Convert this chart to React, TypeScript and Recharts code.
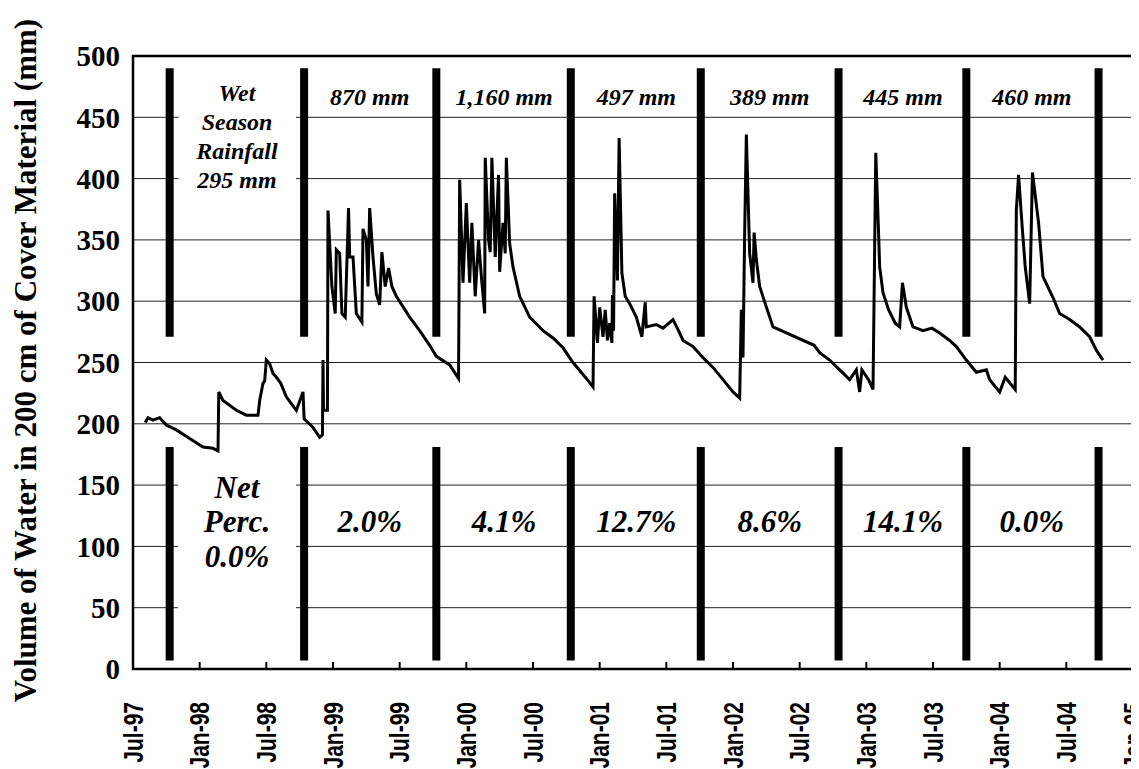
import React from 'react';
import {
  ComposedChart,
  Line,
  XAxis,
  YAxis,
  CartesianGrid,
  ReferenceLine,
  ReferenceArea,
  ReferenceDot,
} from 'recharts';

// x values are months counted from 1 Jul 1997
const readingMonth = [
  1.1, 1.35, 1.8, 2.4, 3.0, 3.9, 5.1, 6.3, 7.2, 7.65, 7.72, 8.1, 9.3, 10.2, 11.25, 11.4, 11.7, 11.85, 12.0, 12.3,
  12.6, 12.9, 13.3, 13.8, 14.7, 15.3, 15.4, 16.2, 16.8, 17.05, 17.1, 17.15, 17.5, 17.55, 17.9, 18.2, 18.3, 18.6, 18.8,
  19.1, 19.4, 19.5, 19.8, 20.1, 20.6, 20.7, 21.0, 21.15, 21.3, 21.6, 21.9, 22.2, 22.4, 22.7, 23.0, 23.3, 23.7, 24.9,
  25.8, 26.7, 27.3, 28.5, 29.3, 29.4, 29.7, 30.0, 30.3, 30.5, 30.8, 31.1, 31.4, 31.65, 31.7, 32.0, 32.15, 32.3, 32.6,
  32.9, 33.0, 33.3, 33.5, 33.6, 33.9, 34.2, 34.8, 35.7, 36.9, 37.8, 38.7, 39.6, 40.8, 41.4, 41.5, 41.8, 42.0, 42.3,
  42.5, 42.7, 42.9, 43.1, 43.15, 43.25, 43.35, 43.6, 43.75, 44.0, 44.3, 44.7, 45.3, 45.8, 46.1, 46.2, 47.1, 47.7,
  48.6, 49.1, 49.5, 50.4, 51.3, 52.2, 53.1, 54.0, 54.6, 54.75, 54.9, 55.05, 55.2, 55.5, 55.8, 55.9, 56.1, 56.4, 56.9,
  57.6, 61.3, 61.8, 62.7, 63.6, 64.5, 65.1, 65.4, 65.6, 66.2, 66.6, 66.85, 67.1, 67.2, 67.5, 68.0, 68.6, 69.0, 69.25,
  69.6, 70.2, 71.1, 71.9, 72.6, 73.5, 74.1, 75.0, 75.9, 76.8, 77.1, 78.0, 78.5, 79.4, 79.5, 79.7, 80.0, 80.3, 80.7,
  80.95, 81.5, 81.9, 82.8, 83.4, 84.3, 85.2, 86.1, 86.7, 87.3,
];

const waterVolume = [
  201, 205, 203, 205, 199, 195, 188, 181, 180, 178, 226, 219, 211, 207, 207, 219, 233, 235, 252, 249,
  241, 238, 233, 222, 211, 226, 204, 197, 189, 191, 252, 211, 211, 374, 312, 290, 342, 339, 290,
  287, 376, 336, 336, 290, 283, 359, 350, 312, 376, 336, 306, 297, 340, 312, 327, 312, 304, 287,
  276, 264, 255, 248, 237, 399, 315, 380, 315, 364, 304, 350, 315, 290, 417, 350, 340, 417, 336,
  403, 324, 364, 339, 417, 347, 328, 304, 287, 276, 270, 262, 250, 237, 230, 304, 266, 295, 271,
  293, 268, 282, 266, 305, 276, 388, 317, 433, 323, 304, 298, 287, 271, 299, 279, 281, 278,
  285, 276, 268, 263, 254, 246, 236, 226, 221, 293, 254, 356, 436, 339, 315, 356, 334, 312, 298,
  279, 264, 258, 252, 244, 236, 244, 226, 244, 236, 228, 421, 356, 328, 307, 293, 282, 279, 315,
  295, 279, 276, 278, 274, 268, 263, 252, 242, 244, 236, 226, 238, 228, 374, 403, 364, 328, 298,
  405, 364, 320, 303, 290, 285, 279, 271, 260, 252,
];

const tickMonths = [0, 6, 12, 18, 24, 30, 36, 42, 48, 54, 60, 66, 72, 78, 84, 90];
const tickLabels = [
  'Jul-97', 'Jan-98', 'Jul-98', 'Jan-99', 'Jul-99', 'Jan-00', 'Jul-00', 'Jan-01',
  'Jul-01', 'Jan-02', 'Jul-02', 'Jan-03', 'Jul-03', 'Jan-04', 'Jul-04', 'Jan-05',
];
const yTicks = [0, 50, 100, 150, 200, 250, 300, 350, 400, 450, 500];

// start of each wet season
const seasonBreaks = [3.3, 15.4, 27.3, 39.4, 51.1, 63.5, 75.0, 86.9];

const seasonMid = [21.3, 33.4, 45.3, 57.3, 69.3, 80.9];
const rainfall = ['870 mm', '1,160 mm', '497 mm', '389 mm', '445 mm', '460 mm'];
const netPerc = ['2.0%', '4.1%', '12.7%', '8.6%', '14.1%', '0.0%'];

const firstMid = 9.36;
const firstRainfall = ['Wet', 'Season', 'Rainfall', '295 mm'];
const firstPerc = ['Net', 'Perc.', '0.0%'];

const data = readingMonth.map((m, i) => ({ month: m, volume: waterVolume[i] }));

const SERIF = '"Liberation Serif", "Times New Roman", serif';
const SANS = '"Liberation Sans", Arial, sans-serif';

const XTick = (props: any) => {
  const { x, y, payload } = props;
  const label = tickLabels[tickMonths.indexOf(payload.value)];
  return (
    <g>
      <line x1={x} y1={y} x2={x} y2={y - 7} stroke="#000" strokeWidth={2} />
      <text
        transform={`translate(${x},${y + 33}) scale(1.3,1) rotate(-90)`}
        textAnchor="end"
        dy="0.35em"
        fontFamily={SANS}
        fontWeight="bold"
        fontSize={21}
        fill="#000"
      >
        {label}
      </text>
    </g>
  );
};

const textShape = (lines: string[], size: number, gap: number) => (p: any) => (
  <text
    x={p.cx}
    y={p.cy}
    textAnchor="middle"
    fontFamily={SERIF}
    fontStyle="italic"
    fontWeight="bold"
    fontSize={size}
    fill="#000"
  >
    {lines.map((t, i) => (
      <tspan key={i} x={p.cx} y={p.cy + i * gap} dy="0.35em">
        {t}
      </tspan>
    ))}
  </text>
);

const AxisTitle = (props: any) => {
  const vb = props.viewBox || { x: 0, y: 48, width: 125, height: 613 };
  return (
    <text
      transform={`translate(${vb.x + 17},${vb.y + vb.height / 2 - 2}) rotate(-90)`}
      textAnchor="middle"
      dy="0.35em"
      fontFamily={SERIF}
      fontWeight="bold"
      fontSize={31}
      fill="#000"
    >
      Volume of Water in 200 cm of Cover Material (mm)
    </text>
  );
};

const App: React.FC = () => {
  return (
    <div style={{ width: 1131, height: 761, background: '#fff' }}>
      <ComposedChart
        width={1131}
        height={761}
        data={data}
        margin={{ top: 48, right: 6, left: 0, bottom: 0 }}
      >
        <CartesianGrid horizontal vertical={false} stroke="#222" strokeWidth={1} />
        <XAxis
          type="number"
          dataKey="month"
          domain={[0, 90]}
          ticks={tickMonths}
          interval={0}
          height={100}
          tickSize={0}
          tickMargin={0}
          axisLine={false}
          tickLine={false}
          tick={<XTick />}
        />
        <YAxis
          type="number"
          domain={[0, 500]}
          ticks={yTicks}
          interval={0}
          width={125}
          tickSize={0}
          tickMargin={13}
          axisLine={false}
          tickLine={false}
          tick={{ fontFamily: SERIF, fontWeight: 'bold', fontSize: 29, fill: '#000' }}
          label={{ content: <AxisTitle /> }}
        />

        {/* white text boxes for the first season hide the grid */}
        <ReferenceArea x1={4.1} x2={14.67} y1={382} y2={484} fill="#fff" fillOpacity={1} stroke="none" />
        <ReferenceArea x1={4.05} x2={14.67} y1={20} y2={170} fill="#fff" fillOpacity={1} stroke="none" />

        {seasonBreaks.map((m, i) => (
          <ReferenceLine
            key={`up-${i}`}
            segment={[{ x: m, y: 271 }, { x: m, y: 490 }]}
            stroke="#000"
            strokeWidth={8}
          />
        ))}
        {seasonBreaks.map((m, i) => (
          <ReferenceLine
            key={`lo-${i}`}
            segment={[{ x: m, y: 7 }, { x: m, y: 181 }]}
            stroke="#000"
            strokeWidth={8}
          />
        ))}

        <Line
          type="linear"
          dataKey="volume"
          stroke="#000"
          strokeWidth={3}
          dot={false}
          isAnimationActive={false}
        />

        <ReferenceDot x={firstMid} y={470} r={0} ifOverflow="visible" shape={textShape(firstRainfall, 24, 29)} />
        <ReferenceDot x={firstMid} y={148.5} r={0} ifOverflow="visible" shape={textShape(firstPerc, 31, 34.5)} />
        {seasonMid.map((m, i) => (
          <ReferenceDot key={`r-${i}`} x={m} y={466.5} r={0} ifOverflow="visible" shape={textShape([rainfall[i]], 24, 0)} />
        ))}
        {seasonMid.map((m, i) => (
          <ReferenceDot key={`p-${i}`} x={m} y={120.7} r={0} ifOverflow="visible" shape={textShape([netPerc[i]], 31, 0)} />
        ))}

        <ReferenceArea x1={0} x2={90} y1={0} y2={500} fill="none" fillOpacity={0} stroke="#000" strokeWidth={2.5} ifOverflow="visible" />
      </ComposedChart>
    </div>
  );
};

export default App;
